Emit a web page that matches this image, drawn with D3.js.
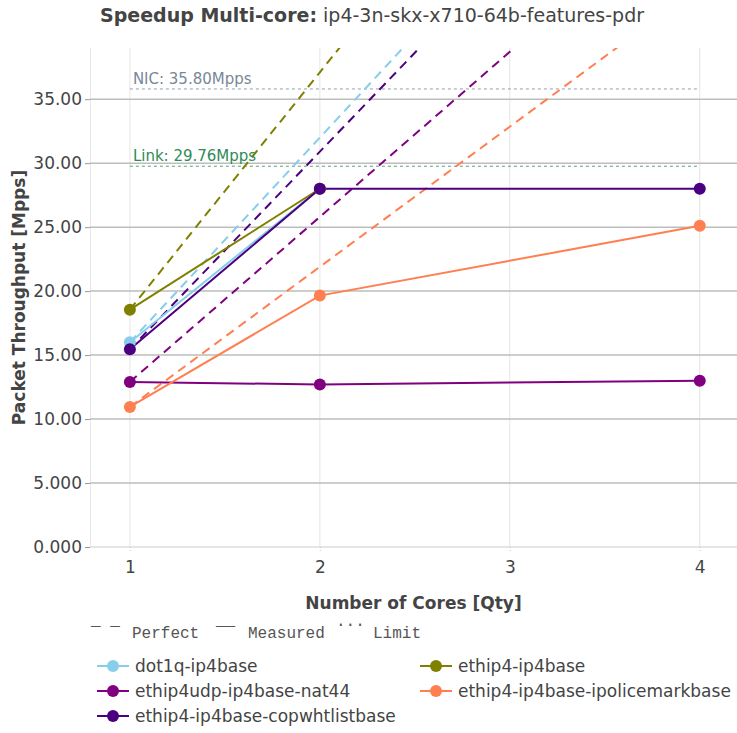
<!DOCTYPE html>
<html>
<head>
<meta charset="utf-8">
<script src="https://cdn.jsdelivr.net/npm/d3@7"></script>
<style>
  body { margin: 0; background: #fff; }
  svg { display: block; }
  text { font-family: "DejaVu Sans", sans-serif; fill: #444; }
</style>
</head>
<body>
<div id="chart"></div>
<script>
// ---- data ----
const cores = [1, 2, 4];
const xTicks = [1, 2, 3, 4];
const yTicks = [0, 5, 10, 15, 20, 25, 30, 35];
const seriesNames = ["dot1q-ip4base", "ethip4-ip4base", "ethip4udp-ip4base-nat44", "ethip4-ip4base-ipolicemarkbase", "ethip4-ip4base-copwhtlistbase"];
const seriesColors = ["#87CEEB", "#808000", "#800080", "#FF7F50", "#4B0082"];
const dot1qValues = [16.0, 28.0];
const ethip4Values = [18.55, 28.0];
const nat44Values = [12.9, 12.7, 13.0];
const policeValues = [10.95, 19.65, 25.1];
const copValues = [15.45, 28.0, 28.0];
const seriesValues = [dot1qValues, ethip4Values, nat44Values, policeValues, copValues];
const limitNames = ["NIC: 35.80Mpps", "Link: 29.76Mpps"];
const limitValues = [35.80, 29.76];
const limitColors = ["#778899", "#2E8B57"];

// ---- layout ----
const W = 737, H = 733;
const pLeft = 90, pRight = 737, pTop = 48, pBottom = 547;

const svg = d3.select("#chart").append("svg").attr("width", W).attr("height", H);

const x = d3.scaleLinear().domain([0.79, 4.196]).range([pLeft, pRight]);
const y = d3.scaleLinear().domain([0, 39]).range([pBottom, pTop]);

// clip
svg.append("defs").append("clipPath").attr("id", "clip")
  .append("rect").attr("x", pLeft).attr("y", pTop).attr("width", pRight - pLeft).attr("height", pBottom - pTop);

// vertical gridlines
svg.append("g").selectAll("line").data(xTicks).join("line")
  .attr("x1", d => x(d)).attr("x2", d => x(d)).attr("y1", pTop).attr("y2", pBottom)
  .attr("stroke", "#e6e6e6").attr("stroke-width", 1);

// y axis line (left edge)
svg.append("line").attr("x1", pLeft + 0.5).attr("x2", pLeft + 0.5).attr("y1", pTop).attr("y2", pBottom)
  .attr("stroke", "#e6e6e6").attr("stroke-width", 1);

// horizontal gridlines
svg.append("g").selectAll("line").data(yTicks.filter(d => d > 0)).join("line")
  .attr("x1", pLeft).attr("x2", pRight).attr("y1", d => y(d)).attr("y2", d => y(d))
  .attr("stroke", "#bdbdbd").attr("stroke-width", 1.5);
// zero line
svg.append("line").attr("x1", pLeft).attr("x2", pRight).attr("y1", y(0)).attr("y2", y(0))
  .attr("stroke", "#dcdcdc").attr("stroke-width", 1.5);

// y axis ticks + labels
const fmt = d3.format(".4r");
const yAxis = d3.axisLeft(y).tickValues(yTicks).tickFormat(fmt).tickSize(5).tickPadding(3);
const gy = svg.append("g").attr("transform", `translate(${pLeft},0)`).call(yAxis);
gy.select(".domain").remove();
gy.selectAll(".tick line").attr("stroke", "#999");
gy.selectAll(".tick text").attr("font-size", 17).attr("font-family", "DejaVu Sans, sans-serif").attr("fill", "#444");

// x axis ticks + labels
const xAxis = d3.axisBottom(x).tickValues(xTicks).tickFormat(d3.format("d")).tickSize(5).tickPadding(9);
const gx = svg.append("g").attr("transform", `translate(0,${pBottom})`).call(xAxis);
gx.select(".domain").remove();
gx.selectAll(".tick line").attr("stroke", "#ccc").attr("stroke-dasharray", "1,2");
gx.selectAll(".tick text").attr("font-size", 17).attr("font-family", "DejaVu Sans, sans-serif").attr("fill", "#444");

const plot = svg.append("g").attr("clip-path", "url(#clip)");

// limit lines
limitValues.forEach((v, i) => {
  plot.append("line").attr("x1", x(1)).attr("x2", x(4)).attr("y1", y(v)).attr("y2", y(v))
    .attr("stroke", limitColors[i]).attr("stroke-width", 1).attr("stroke-dasharray", "3,3").attr("opacity", 0.8);
  svg.append("text").attr("x", x(1) + 3).attr("y", y(v) - 5).attr("font-size", 15)
    .style("fill", limitColors[i]).text(limitNames[i]);
});

const line = d3.line().x(d => x(d[0])).y(d => y(d[1]));

// perfect lines
seriesValues.forEach((vals, i) => {
  const base = vals[0];
  const pts = xTicks.map(n => [n, base * n]);
  plot.append("path").attr("d", line(pts)).attr("fill", "none")
    .attr("stroke", seriesColors[i]).attr("stroke-width", 2).attr("stroke-dasharray", "9,6");
});

// measured lines + markers
seriesValues.forEach((vals, i) => {
  const pts = vals.map((v, j) => [cores[j], v]);
  plot.append("path").attr("d", line(pts)).attr("fill", "none")
    .attr("stroke", seriesColors[i]).attr("stroke-width", 2);
});
seriesValues.forEach((vals, i) => {
  const pts = vals.map((v, j) => [cores[j], v]);
  svg.append("g").selectAll("circle").data(pts).join("circle")
    .attr("cx", d => x(d[0])).attr("cy", d => y(d[1])).attr("r", 6)
    .attr("fill", seriesColors[i]);
});

// title
const title = svg.append("text").attr("x", 100).attr("y", 22).attr("font-size", 19);
title.append("tspan").attr("font-weight", "bold").text("Speedup Multi-core:");
title.append("tspan").text(" ip4-3n-skx-x710-64b-features-pdr");

// axis titles
svg.append("text").attr("x", (pLeft + pRight) / 2).attr("y", 609).attr("text-anchor", "middle")
  .attr("font-size", 17).attr("font-weight", "bold").text("Number of Cores [Qty]");
svg.append("text").attr("transform", `translate(25,${(pTop + pBottom) / 2}) rotate(-90)`)
  .attr("text-anchor", "middle").attr("font-size", 17).attr("font-weight", "bold").text("Packet Throughput [Mpps]");

// style legend
const mono = "Liberation Mono, Courier New, monospace";
const styleLeg = svg.append("g");
styleLeg.append("text").attr("x", 91).attr("y", 639).attr("font-size", 16).style("font-family", mono).style("fill", "#555").text("¯ ¯");
styleLeg.append("text").attr("x", 132).attr("y", 638).attr("font-size", 16).style("font-family", mono).style("fill", "#555").text("Perfect");
styleLeg.append("text").attr("x", 216).attr("y", 639).attr("font-size", 16).style("font-family", mono).style("fill", "#555").text("¯¯");
styleLeg.append("text").attr("x", 248).attr("y", 638).attr("font-size", 16).style("font-family", mono).style("fill", "#555").text("Measured");
styleLeg.append("text").attr("x", 336).attr("y", 626).attr("font-size", 16).style("font-family", mono).style("fill", "#555").text("...");
styleLeg.append("text").attr("x", 373).attr("y", 638).attr("font-size", 16).style("font-family", mono).style("fill", "#555").text("Limit");

// series legend
const legPos = [[97, 666], [420, 666], [97, 691], [420, 691], [97, 716]];
seriesNames.forEach((name, i) => {
  const [lx, ly] = legPos[i];
  const g = svg.append("g").attr("transform", `translate(${lx},${ly})`);
  g.append("line").attr("x1", 0).attr("x2", 32).attr("y1", 0).attr("y2", 0)
    .attr("stroke", seriesColors[i]).attr("stroke-width", 2);
  g.append("circle").attr("cx", 16).attr("cy", 0).attr("r", 6).attr("fill", seriesColors[i]);
  g.append("text").attr("x", 38).attr("y", 0).attr("dy", "0.35em").attr("font-size", 17).text(name);
});
</script>
</body>
</html>
